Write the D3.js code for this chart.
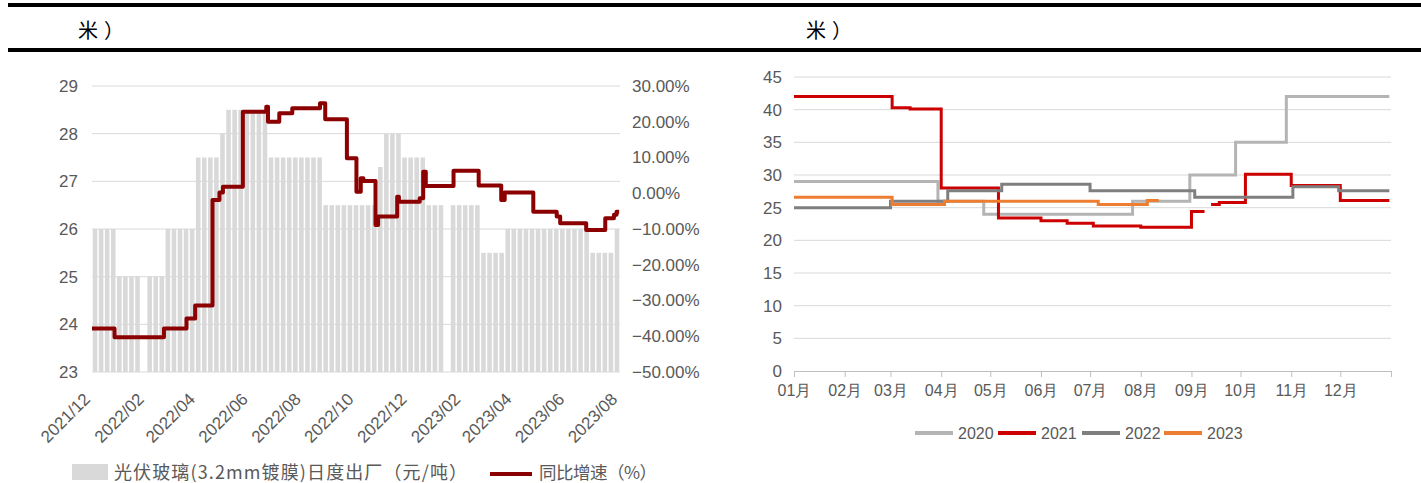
<!DOCTYPE html>
<html>
<head>
<meta charset="utf-8">
<script src="https://cdn.jsdelivr.net/npm/d3@7"></script>
<style>
  body { margin: 0; background: #fff; }
  text { font-family: "Liberation Sans", Arial, sans-serif; }
</style>
</head>
<body>
<div id="chart"></div>
<script>
// ---- data: left chart (weekly price bars + yoy line) ----
var barStart = "2021-12-01";
var barValues = [
  26, 26, 26, 26, 25, 25, 25, 25, null, 25, 25, 25,
  26, 26, 26, 26, 26, 27.5, 27.5, 27.5, 27.5, 28,
  28.5, 28.5, 28.5, 28.5, 28.5, 28.5, 28.5,
  27.5, 27.5, 27.5, 27.5, 27.5, 27.5, 27.5, 27.5, 27.5,
  26.5, 26.5, 26.5, 26.5, 26.5, 26.5, 26.5, 26.5, 26.5,
  27.3, 28, 28, 28, 27.5, 27.5, 27.5, 27.5,
  26.5, 26.5, 26.5, null, 26.5, 26.5, 26.5, 26.5, 26.5,
  25.5, 25.5, 25.5, 25.5,
  26, 26, 26, 26, 26, 26, 26, 26, 26, 26, 26, 26, 26, 26,
  25.5, 25.5, 25.5, 25.5, 26
];
var yoyDates = [
  "2021-12-01", "2021-12-27", "2022-02-22", "2022-03-20", "2022-03-30",
  "2022-04-19", "2022-04-27", "2022-05-01", "2022-05-24", "2022-06-20",
  "2022-06-22", "2022-07-05", "2022-07-20", "2022-08-21", "2022-08-27",
  "2022-09-21", "2022-10-02", "2022-10-07", "2022-10-10", "2022-10-24",
  "2022-10-27", "2022-11-18", "2022-11-20", "2022-12-14", "2022-12-18",
  "2022-12-21", "2023-01-22", "2023-02-20", "2023-03-18", "2023-03-22",
  "2023-04-24", "2023-05-21", "2023-05-25", "2023-06-24", "2023-07-16",
  "2023-07-26", "2023-07-29", "2023-08-01"
];
var yoyValues = [
  -37.8, -40.3, -37.8, -35.0, -31.4,
  -1.9, 0.2, 1.8, 22.8, 24.2,
  20.0, 22.4, 23.8, 25.2, 20.7,
  9.8, 0.4, 4.2, 3.4, -8.9,
  -6.5, -1.0, -2.4, -1.4, 6.0,
  2.0, 6.3, 2.2, -1.9, 0.2,
  -5.2, -6.5, -8.4, -10.3, -7.0,
  -6.0, -5.2, -5.2
];
var leftTickLabels = ["2021/12", "2022/02", "2022/04", "2022/06", "2022/08", "2022/10",
                      "2022/12", "2023/02", "2023/04", "2023/06", "2023/08"];

// ---- data: right chart (price by day of year, one line per year) ----
var years = ["2020", "2021", "2022", "2023"];
var yearColors = ["#b4b4b4", "#cc0000", "#7f7f7f", "#ed7d31"];
var s2020 = [["01-01", 29], ["03-30", 26], ["04-27", 24], ["07-27", 26], ["08-31", 30],
             ["09-28", 35], ["10-29", 42], ["12-31", 42]];
var s2021 = [["01-01", 42], ["03-02", 40.3], ["03-13", 40.1], ["04-01", 28], ["05-06", 23.4],
             ["06-01", 23.0], ["06-17", 22.6], ["07-03", 22.2], ["08-01", 22.0], ["09-01", 24.4],
             ["09-09", 24.4], ["09-10", null], ["09-13", 25.5], ["09-18", 25.8], ["10-04", 30.1],
             ["11-01", 28.4], ["12-01", 26.1], ["12-31", 26.1]];
var s2022 = [["01-01", 25.0], ["03-01", 26.0], ["04-05", 27.6], ["05-08", 28.6], ["07-01", 27.6],
             ["09-03", 26.6], ["11-02", 28.2], ["11-30", 27.6], ["12-31", 27.6]];
var s2023 = [["01-01", 26.6], ["03-02", 25.5], ["04-03", 26.0], ["07-06", 25.5], ["08-05", 26.1],
             ["08-12", 26.1]];
var monthLabels = ["01月", "02月", "03月", "04月", "05月", "06月",
                   "07月", "08月", "09月", "10月", "11月", "12月"];

var parseDay = d3.timeParse("%Y-%m-%d");
var parseMonth = d3.timeParse("%Y/%m");

var svg = d3.select("#chart")
  .append("svg")
    .attr("width", 1421)
    .attr("height", 483);

// header rules and the cut-off title text
svg.append("rect").attr("x", 8).attr("y", 3).attr("width", 1413).attr("height", 4).attr("fill", "#000");
svg.append("rect").attr("x", 8).attr("y", 48).attr("width", 1413).attr("height", 4).attr("fill", "#000");
svg.selectAll("title-text")
  .data([78, 806])
  .enter()
  .append("text")
    .attr("x", function(d) { return d; })
    .attr("y", 38)
    .style("font-family", "'Noto Sans CJK SC'")
    .style("font-size", "20px")
    .style("letter-spacing", "6px")
    .attr("fill", "#000")
    .text("米）");

// ================= left chart =================
var L = {left: 92, right: 620, top: 86, bottom: 372};

var barData = barValues.map(function(v, i) {
  return {date: d3.timeDay.offset(parseDay(barStart), 7 * i), value: v};
});
var xL = d3.scaleTime()
  .domain([parseDay(barStart), d3.timeDay.offset(parseDay(barStart), 7 * barValues.length)])
  .range([L.left, L.right]);
var yL = d3.scaleLinear().domain([23, 29]).range([L.bottom, L.top]);
var yR = d3.scaleLinear().domain([-50, 30]).range([L.bottom, L.top]);

var left = svg.append("g");

// gridlines
left.selectAll("gridL")
  .data(yL.ticks(6))
  .enter()
  .append("line")
    .attr("x1", L.left).attr("x2", L.right)
    .attr("y1", function(d) { return yL(d); })
    .attr("y2", function(d) { return yL(d); })
    .attr("stroke", "#d9d9d9")
    .attr("stroke-width", 1);

// bars
var weekW = xL(d3.timeDay.offset(parseDay(barStart), 7)) - xL(parseDay(barStart));
left.selectAll("mybar")
  .data(barData.filter(function(d) { return d.value != null; }))
  .enter()
  .append("rect")
    .attr("x", function(d) { return xL(d.date) + 0.75; })
    .attr("y", function(d) { return yL(d.value); })
    .attr("width", weekW - 1.5)
    .attr("height", function(d) { return L.bottom - yL(d.value); })
    .attr("fill", "#d9d9d9");

// left axis
left.append("g")
  .attr("transform", "translate(" + L.left + ",0)")
  .call(d3.axisLeft(yL).ticks(6).tickSize(0).tickPadding(14))
  .call(function(g) { g.select(".domain").remove(); })
  .selectAll("text")
    .style("font-size", "17px")
    .attr("fill", "#595959");

// right axis
left.append("g")
  .attr("transform", "translate(" + L.right + ",0)")
  .call(d3.axisRight(yR)
    .tickValues(d3.range(-50, 31, 10))
    .tickFormat(function(d) { return d3.format(".2f")(d) + "%"; })
    .tickSize(0).tickPadding(12))
  .call(function(g) { g.select(".domain").remove(); })
  .selectAll("text")
    .style("font-size", "17px")
    .attr("fill", "#595959");

// rotated date labels
left.selectAll("xlab")
  .data(leftTickLabels)
  .enter()
  .append("text")
    .attr("transform", function(d) {
      return "translate(" + (xL(parseMonth(d)) - 5) + ",396)rotate(-45)";
    })
    .attr("text-anchor", "end")
    .attr("dy", "0.35em")
    .style("font-size", "17px")
    .attr("fill", "#595959")
    .text(function(d) { return d; });

// yoy line
var yoyData = yoyDates.map(function(d, i) { return {date: parseDay(d), value: yoyValues[i]}; });
left.append("path")
  .datum(yoyData)
  .attr("fill", "none")
  .attr("stroke", "#8b0000")
  .attr("stroke-width", 4)
  .attr("stroke-linejoin", "round")
  .attr("d", d3.line()
    .x(function(d) { return xL(d.date); })
    .y(function(d) { return yR(d.value); })
    .curve(d3.curveStepAfter));

// legend
left.append("rect").attr("x", 72).attr("y", 464).attr("width", 36).attr("height", 16).attr("fill", "#d9d9d9");
left.append("text").attr("x", 114).attr("y", 479)
  .style("font-family", "'Noto Sans CJK SC'").style("font-size", "18px").attr("fill", "#595959")
  .attr("textLength", 353).attr("lengthAdjust", "spacing")
  .text("光伏玻璃(3.2mm镀膜)日度出厂（元/吨）");
left.append("line").attr("x1", 490).attr("x2", 532).attr("y1", 474).attr("y2", 474)
  .attr("stroke", "#8b0000").attr("stroke-width", 4);
left.append("text").attr("x", 539).attr("y", 479)
  .style("font-family", "'Noto Sans CJK SC'").style("font-size", "17.5px").attr("fill", "#595959")
  .attr("textLength", 118).attr("lengthAdjust", "spacing")
  .text("同比增速（%）");

// ================= right chart =================
var R = {left: 794, right: 1391, top: 77, bottom: 371};
var x2 = d3.scaleTime()
  .domain([parseDay("2021-01-01"), parseDay("2022-01-01")])
  .range([R.left, R.right]);
var y2 = d3.scaleLinear().domain([0, 45]).range([R.bottom, R.top]);

var right = svg.append("g");

right.selectAll("gridR")
  .data(d3.range(5, 46, 5))
  .enter()
  .append("line")
    .attr("x1", R.left).attr("x2", R.right)
    .attr("y1", function(d) { return y2(d); })
    .attr("y2", function(d) { return y2(d); })
    .attr("stroke", "#d9d9d9")
    .attr("stroke-width", 1);

right.append("g")
  .attr("transform", "translate(" + R.left + ",0)")
  .call(d3.axisLeft(y2).tickValues(d3.range(0, 46, 5)).tickSize(0).tickPadding(12))
  .call(function(g) { g.select(".domain").remove(); })
  .selectAll("text")
    .style("font-size", "17px")
    .attr("fill", "#595959");

var monthDates = monthLabels.map(function(m, i) { return new Date(2021, i, 1); });
var xAxis2 = right.append("g")
  .attr("transform", "translate(0," + R.bottom + ")")
  .call(d3.axisBottom(x2)
    .tickValues(monthDates.concat([parseDay("2022-01-01")]))
    .tickFormat(function(d, i) { return monthLabels[i] || ""; })
    .tickSize(6).tickPadding(8).tickSizeOuter(0));
xAxis2.select(".domain").attr("stroke", "#bfbfbf");
xAxis2.selectAll("line").attr("stroke", "#bfbfbf");
xAxis2.selectAll("text")
  .style("font-size", "16px")
  .attr("fill", "#595959");

var seriesList = [s2020, s2021, s2022, s2023];
var line2 = d3.line()
  .defined(function(d) { return d[1] != null; })
  .x(function(d) { return x2(parseDay("2021-" + d[0])); })
  .y(function(d) { return y2(d[1]); })
  .curve(d3.curveStepAfter);

seriesList.forEach(function(s, i) {
  right.append("path")
    .datum(s)
    .attr("fill", "none")
    .attr("stroke", yearColors[i])
    .attr("stroke-width", 3)
    .attr("d", line2);
});

// legend
var legX = [915, 998, 1082, 1164];
years.forEach(function(y, i) {
  right.append("line")
    .attr("x1", legX[i]).attr("x2", legX[i] + 38)
    .attr("y1", 433).attr("y2", 433)
    .attr("stroke", yearColors[i]).attr("stroke-width", 4);
  right.append("text")
    .attr("x", legX[i] + 43).attr("y", 439)
    .style("font-size", "16px")
    .attr("fill", "#595959")
    .text(y);
});
</script>
</body>
</html>
